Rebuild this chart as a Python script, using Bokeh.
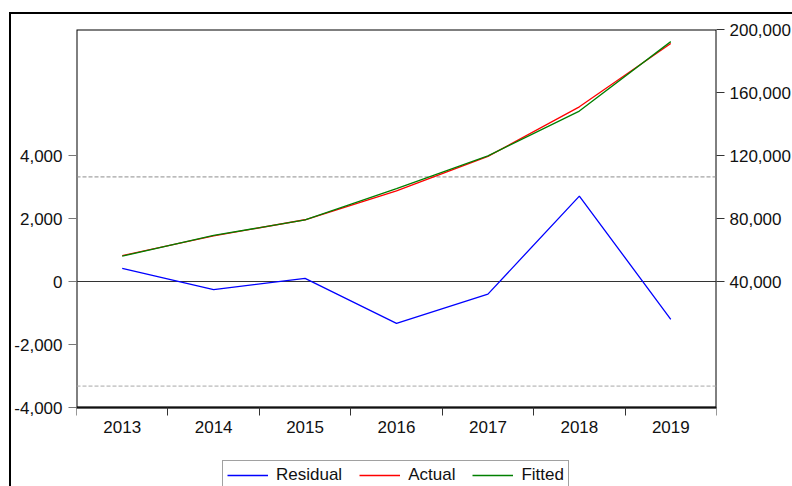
from bokeh.plotting import figure
from bokeh.models import Range1d, LinearAxis, FixedTicker, NumeralTickFormatter, Span, Legend, BoxAnnotation
from bokeh.embed import file_html
from bokeh.resources import INLINE

# ---- data ----
years = [2013, 2014, 2015, 2016, 2017, 2018, 2019]
actual = [56500, 69000, 79200, 97600, 119400, 150900, 191100]
fitted = [56080, 69260, 79100, 98930, 119800, 148190, 192300]
residual = [420, -260, 100, -1330, -400, 2710, -1200]
resid_se = 3320
left_ticks = [-4000, -2000, 0, 2000, 4000]
right_ticks = [40000, 80000, 120000, 160000, 200000]
series_names = ["Residual", "Actual", "Fitted"]

FONT = "Liberation Sans"
FS = "17px"

# plot box geometry (pixels) and value spans of the two scales
BOX_H = 378          # height of the framed data area
FRAME_H = 457        # frame continues below the box to hold x labels + legend
res_lo, res_hi = -4000, 8000
lvl_lo, lvl_hi = -40000, 200000
ext = (FRAME_H - BOX_H) / BOX_H
x_lo, x_hi = years[0] - 0.5, years[-1] + 0.5

p = figure(frame_width=640, frame_height=FRAME_H, output_backend="svg", toolbar_location=None,
           x_range=Range1d(x_lo, x_hi),
           y_range=Range1d(res_lo - ext * (res_hi - res_lo), res_hi),
           min_border_left=76, min_border_right=76, min_border_top=29, min_border_bottom=0)
p.extra_y_ranges = {"lvl": Range1d(lvl_lo - ext * (lvl_hi - lvl_lo), lvl_hi)}
p.xgrid.visible = False
p.ygrid.visible = False
p.outline_line_color = None
p.background_fill_color = "white"
p.border_fill_color = "white"

# framed data box
p.add_layout(BoxAnnotation(left=x_lo, right=x_hi, bottom=res_lo, top=res_hi,
                           fill_color=None, fill_alpha=0, line_color="#000000", line_alpha=1.0,
                           line_width=2, level="underlay"))

# left axis (residual)
ya = p.yaxis[0]
ya.ticker = FixedTicker(ticks=left_ticks)
ya.formatter = NumeralTickFormatter(format="0,0")
ya.major_tick_in = 0
ya.major_tick_out = 8
ya.minor_tick_in = 0
ya.minor_tick_out = 0
ya.major_label_standoff = 6
ya.axis_line_color = None
ya.major_tick_line_color = "#777777"
ya.major_label_text_font = FONT
ya.major_label_text_font_size = FS
ya.major_label_text_color = "#111111"

# right axis (levels)
ra = LinearAxis(y_range_name="lvl", ticker=FixedTicker(ticks=right_ticks),
                formatter=NumeralTickFormatter(format="0,0"))
ra.major_tick_in = 0
ra.major_tick_out = 8
ra.minor_tick_in = 0
ra.minor_tick_out = 0
ra.major_label_standoff = 5
ra.axis_line_color = None
ra.major_tick_line_color = "#333333"
ra.major_label_text_font = FONT
ra.major_label_text_font_size = FS
ra.major_label_text_color = "#111111"
p.add_layout(ra, "right")

# bottom axis at the bottom of the box: labels at year centres, ticks at boundaries
xa = p.xaxis[0]
xa.fixed_location = res_lo
bounds = [y - 0.5 for y in years] + [years[-1] + 0.5]
xa.ticker = FixedTicker(ticks=years, minor_ticks=bounds)
xa.major_tick_line_color = None
xa.major_tick_in = 0
xa.major_tick_out = 8
xa.minor_tick_in = 0
xa.minor_tick_out = 8
xa.minor_tick_line_color = "#333333"
xa.major_label_standoff = 5
xa.axis_line_color = "#111111"
xa.axis_line_width = 1.5
xa.major_label_text_font = FONT
xa.major_label_text_font_size = FS
xa.major_label_text_color = "#111111"

# reference lines
for loc, col, dash in [(0, "#333333", "solid"), (resid_se, "#8c8c8c", "4 2"), (-resid_se, "#a8a8a8", "4 2")]:
    p.add_layout(Span(location=loc, dimension="width", line_color=col, line_width=1,
                      line_dash=dash, level="underlay"))

r_res = p.line(years, residual, line_color="#0000FF", line_width=1.3)
r_act = p.line(years, actual, line_color="#FF0000", line_width=1.3, y_range_name="lvl")
r_fit = p.line(years, fitted, line_color="#008000", line_width=1.3, y_range_name="lvl")

legend = Legend(items=[(series_names[0], [r_res]), (series_names[1], [r_act]), (series_names[2], [r_fit])],
                orientation="horizontal", location=(146, -4))
legend.label_text_font = FONT
legend.label_text_font_size = FS
legend.label_text_color = "#111111"
legend.glyph_width = 41
legend.glyph_height = 16
legend.label_height = 16
legend.label_standoff = 8
legend.spacing = 17
legend.padding = 4
legend.margin = 0
legend.border_line_color = "#444444"
legend.border_line_width = 1.5
legend.background_fill_color = "white"
legend.background_fill_alpha = 1.0
p.add_layout(legend, "center")

p.stylesheets = [":host { position: relative; } :host::after { content: ''; position: absolute; "
                 "left: 9px; top: 12px; right: 0; bottom: 0; border-left: 2px solid #000; "
                 "border-top: 2px solid #000; pointer-events: none; }"]

open("out.html", "w").write(file_html(p, INLINE))
